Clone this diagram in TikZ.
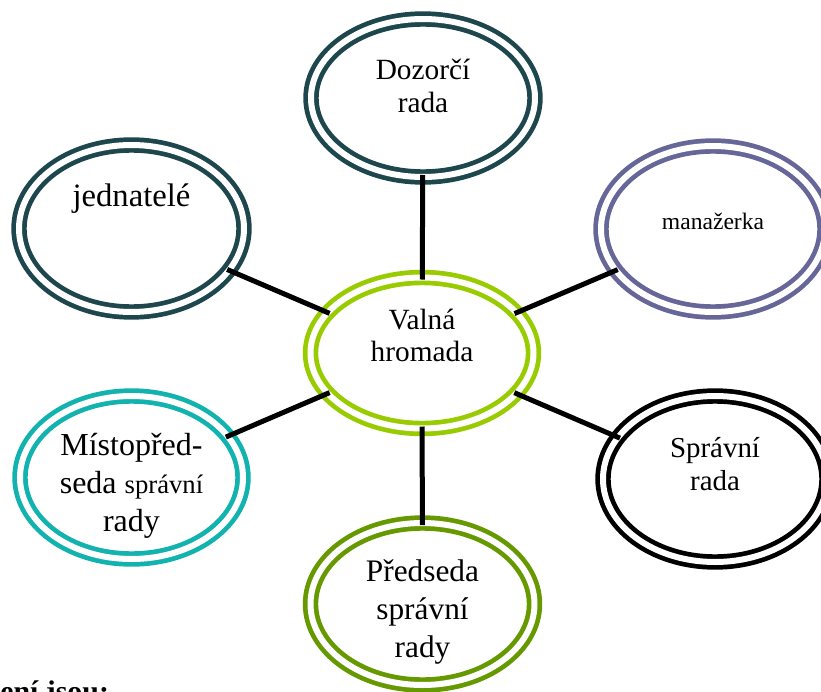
\documentclass[tikz,border=0pt]{standalone}
\usepackage{fontspec}
\setmainfont{Liberation Serif}
\usetikzlibrary{shapes.geometric}
\newdimen\pxu \pxu=0.75pt
\newcommand\fsz[2]{\fontsize{#1}{#2}\selectfont}
\definecolor{darkteal}{RGB}{29,71,77}
\definecolor{limegreen}{RGB}{153,204,0}
\definecolor{slatepurple}{RGB}{102,102,153}
\definecolor{tealbright}{RGB}{18,178,175}
\definecolor{olivegreen}{RGB}{102,153,0}
\tikzset{
  ell/.style={ellipse, draw=#1, double=white, double distance=6\pxu,
    line width=4.7\pxu, inner sep=0pt, outer sep=0pt},
  conn/.style={line width=5\pxu, black, shorten <=-2\pxu, shorten >=-2\pxu},
  lbl/.style={align=center, inner sep=0pt, text=black},
}
\begin{document}
\begin{tikzpicture}[x=0.75pt, y=-0.75pt]
\clip (0,0) rectangle (821,692);
\fill[white] (0,0) rectangle (821,692);

\node[ell=darkteal, minimum width=224\pxu, minimum height=158\pxu,
  label={[lbl, font={\fsz{22}{24.75}}, yshift=12\pxu]center:{Dozorčí\\rada}}] (doz) at (423,98) {};
\node[ell=darkteal, minimum width=225\pxu, minimum height=167\pxu,
  label={[lbl, font={\fsz{24.5}{28}}, yshift=30\pxu]center:{jednatelé}}] (jed) at (131.5,228.5) {};
\node[ell=limegreen, minimum width=223\pxu, minimum height=151\pxu,
  label={[lbl, font={\fsz{22}{24}}, yshift=18\pxu]center:{Valná\\hromada}}] (vh) at (422,353) {};
\node[ell=slatepurple, minimum width=224\pxu, minimum height=166\pxu,
  label={[lbl, font={\fsz{17.7}{21}}, yshift=7.5\pxu]center:{manažerka}}] (man) at (713,229) {};
\node[ell=tealbright, minimum width=223\pxu, minimum height=163\pxu,
  label={[lbl, font={\fsz{24}{28.5}}, yshift=-8\pxu]center:{Místopřed-\\seda {\fsz{20}{28.5}správní}\\rady}}] (mis) at (131.5,477.5) {};
\node[ell=black, minimum width=224\pxu, minimum height=166\pxu,
  label={[lbl, font={\fsz{21.7}{24.75}}, yshift=15\pxu]center:{Správní\\rada}}] (spr) at (715,479) {};
\node[ell=olivegreen, minimum width=224\pxu, minimum height=162\pxu,
  label={[lbl, font={\fsz{23.5}{28.5}}, yshift=-8\pxu]center:{Předseda\\správní\\rady}}] (pre) at (422.5,604) {};

\draw[conn] (doz) -- (vh);
\draw[conn] (jed) -- (vh);
\draw[conn] (man) -- (vh);
\draw[conn] (mis) -- (vh);
\draw[conn] (spr) -- (vh);
\draw[conn] (pre) -- (vh);

\node[anchor=base west, inner sep=0pt, font={\fsz{22.4}{26}\bfseries}] (foot) at (0,701) {ení jsou:};
\end{tikzpicture}
\end{document}
